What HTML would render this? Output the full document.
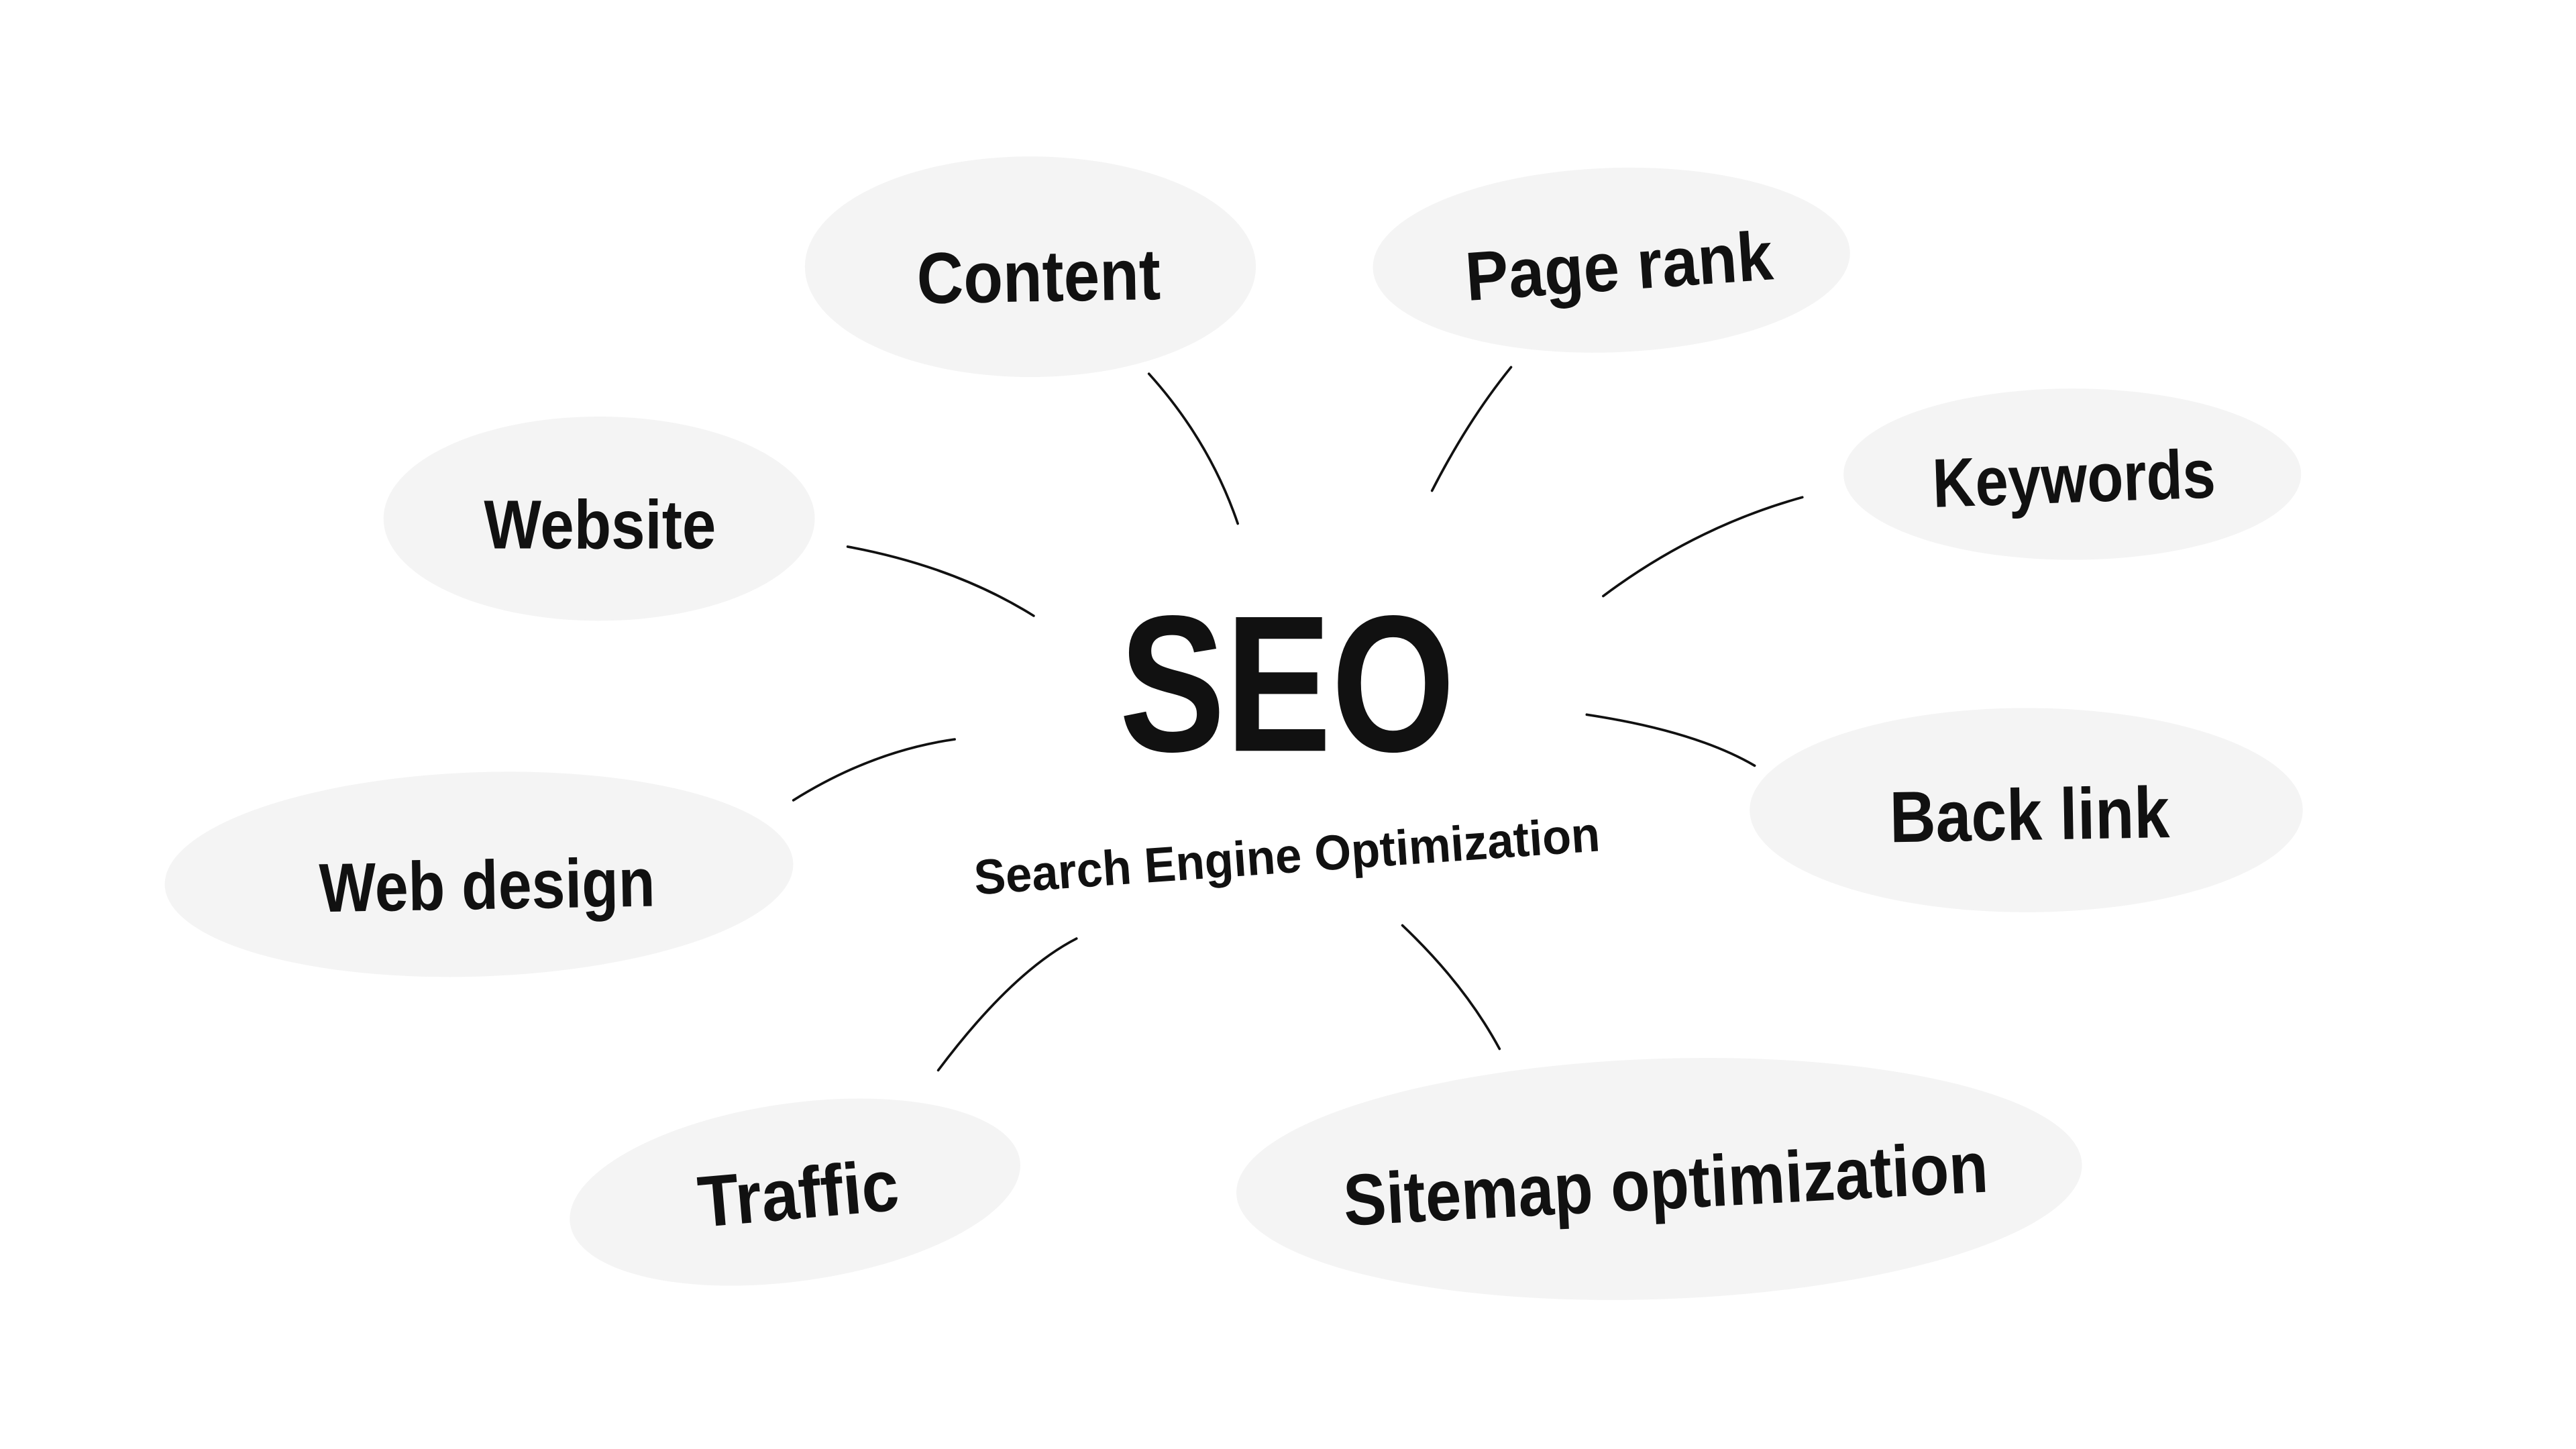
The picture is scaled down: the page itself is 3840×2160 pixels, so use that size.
<!DOCTYPE html>
<html><head><meta charset="utf-8"><style>html,body{margin:0;padding:0;background:#fff}svg{display:block}</style></head>
<body>
<svg width="3840" height="2160" viewBox="0 0 1565 880" preserveAspectRatio="none" xmlns="http://www.w3.org/2000/svg">
<rect width="1565" height="880" fill="#fff"/>
<g fill="#f4f4f4">
<ellipse cx="626" cy="162" rx="137" ry="67"/>
<ellipse cx="979" cy="158" rx="145" ry="56" transform="rotate(-2 979 158)"/>
<ellipse cx="1259" cy="288" rx="139" ry="52"/>
<ellipse cx="364" cy="315" rx="131" ry="62"/>
<ellipse cx="1231" cy="492" rx="168" ry="62"/>
<ellipse cx="291" cy="531" rx="191" ry="62" transform="rotate(-2 291 531)"/>
<ellipse cx="483" cy="724" rx="138" ry="54" transform="rotate(-8 483 724)"/>
<ellipse cx="1008" cy="716" rx="257" ry="73" transform="rotate(-2 1008 716)"/>
</g>
<g fill="none" stroke="#111" stroke-width="1.5" stroke-linecap="round">
<path d="M698 227 Q735 268 752 318"/>
<path d="M918 223 Q892 255 870 298"/>
<path d="M1095 302 Q1030 320 974 362"/>
<path d="M515 332 Q580 344 628 374"/>
<path d="M580 449 Q530 456 482 486"/>
<path d="M964 434 Q1030 444 1066 465"/>
<path d="M654 570 Q615 590 570 650"/>
<path d="M852 562 Q890 598 911 637"/>
</g>
<g font-family="'Liberation Sans Narrow','Liberation Sans',sans-serif" font-weight="bold" fill="#111">
<text x="557" y="183" font-size="44" textLength="148" lengthAdjust="spacingAndGlyphs" transform="rotate(-1 630 167)">Content</text>
<text x="890" y="176" font-size="42" textLength="187" lengthAdjust="spacingAndGlyphs" transform="rotate(-4 985 160)">Page rank</text>
<text x="1174" y="305" font-size="42" textLength="172" lengthAdjust="spacingAndGlyphs" transform="rotate(-2 1260 292)">Keywords</text>
<text x="294" y="333" font-size="42" textLength="141" lengthAdjust="spacingAndGlyphs">Website</text>
<text x="1148" y="510" font-size="44" textLength="170" lengthAdjust="spacingAndGlyphs" transform="rotate(-1 1232 494)">Back link</text>
<text x="194" y="552" font-size="42" textLength="204" lengthAdjust="spacingAndGlyphs" transform="rotate(-1 296 540)">Web design</text>
<text x="424" y="740" font-size="44" textLength="122" lengthAdjust="spacingAndGlyphs" transform="rotate(-5 485 725)">Traffic</text>
<text x="816" y="734" font-size="44" textLength="392" lengthAdjust="spacingAndGlyphs" transform="rotate(-3 1012 720)">Sitemap optimization</text>
<text x="680" y="456" font-size="118" textLength="204" lengthAdjust="spacingAndGlyphs">SEO</text>
<text x="591" y="530" font-size="30" textLength="381" lengthAdjust="spacingAndGlyphs" transform="rotate(-4 782 515)">Search Engine Optimization</text>
</g>
</svg>
</body></html>
